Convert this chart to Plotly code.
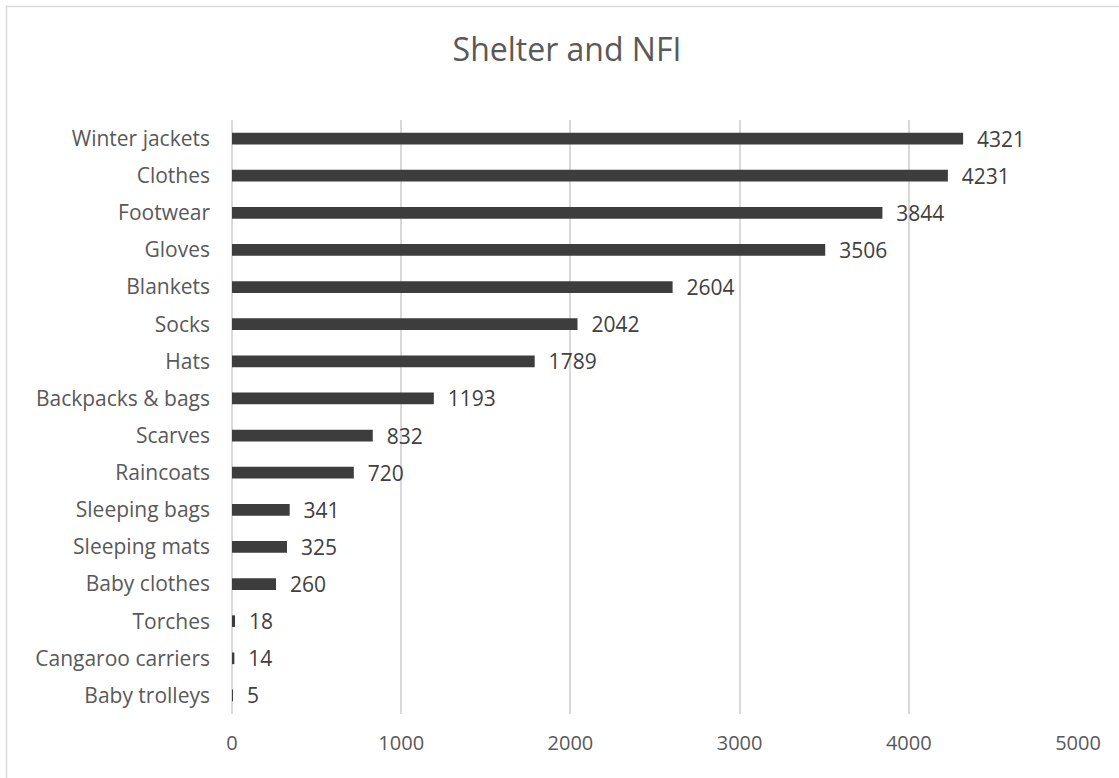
import plotly.graph_objects as go

categories = ["Winter jackets", "Clothes", "Footwear", "Gloves", "Blankets", "Socks", "Hats",
              "Backpacks & bags", "Scarves", "Raincoats", "Sleeping bags", "Sleeping mats",
              "Baby clothes", "Torches", "Cangaroo carriers", "Baby trolleys"]
values = [4321, 4231, 3844, 3506, 2604, 2042, 1789, 1193, 832, 720, 341, 325, 260, 18, 14, 5]
tick_vals = [0, 1000, 2000, 3000, 4000, 5000]

W, H = 1119, 778
ml, mr, mt, mb = 232, 41, 120, 64
pw, ph = W - ml - mr, H - mt - mb

def px_to_paper_x(px):
    return (px - ml) / pw

def px_to_paper_y(py):
    return (H - mb - py) / ph

fig = go.Figure(go.Bar(
    x=values, y=categories, orientation="h",
    marker=dict(color="#3d3d3d", line=dict(width=0)),
    text=values, texttemplate="\u00a0\u00a0%{x}", textposition="outside",
    constraintext="none",
    textfont=dict(family="Open Sans", size=21, color="#404040"),
    cliponaxis=False,
))

fig.update_layout(
    width=W, height=H,
    margin=dict(l=ml, r=mr, t=mt, b=mb),
    paper_bgcolor="white", plot_bgcolor="white",
    bargap=0.685,
    showlegend=False,
    title=dict(text="Shelter and NFI", x=567 / W, xref="container", xanchor="center",
               y=1 - 50 / H, yanchor="middle",
               font=dict(family="Open Sans", size=32, color="#595959")),
    xaxis=dict(range=[0, 5000], tickvals=tick_vals, showgrid=True, gridcolor="#d9d9d9",
               gridwidth=1.5, zeroline=True, zerolinecolor="#d9d9d9", zerolinewidth=1.5,
               showline=False, ticks="",
               tickfont=dict(family="Open Sans", size=20, color="#595959"),
               ticklabelstandoff=15),
    yaxis=dict(categoryorder="array", categoryarray=categories, autorange="reversed",
               showgrid=False, zeroline=False, ticks="", showline=False,
               tickfont=dict(family="Open Sans", size=21, color="#595959"),
               ticklabelstandoff=21),
    shapes=[dict(type="rect", xref="paper", yref="paper",
                 x0=px_to_paper_x(6.5), x1=px_to_paper_x(1130),
                 y0=px_to_paper_y(790), y1=px_to_paper_y(6.5),
                 line=dict(color="#d9d9d9", width=1.5), fillcolor="rgba(0,0,0,0)", layer="below")],
)

fig.write_html("out.html", config={"displayModeBar": False},
               post_script="document.body.style.margin='0';")
